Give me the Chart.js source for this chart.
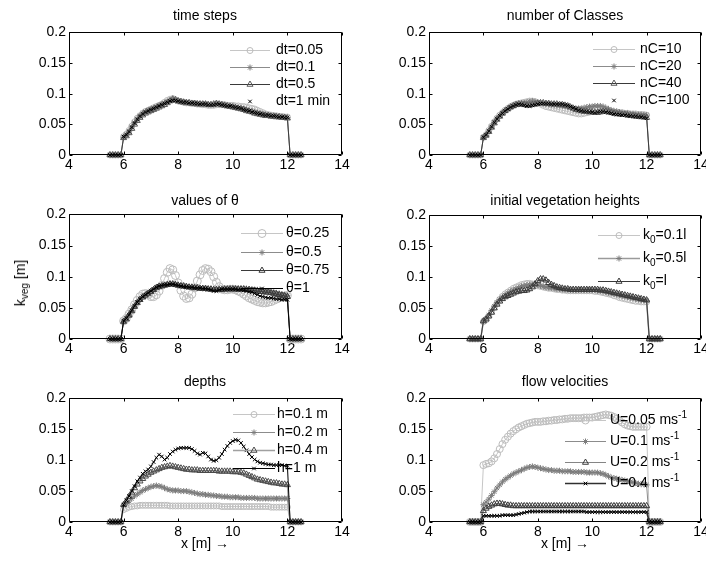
<!DOCTYPE html>
<html>
<head>
<meta charset="utf-8">
<script src="https://cdn.jsdelivr.net/npm/chart.js@4.4.0/dist/chart.umd.min.js"></script>
<style>
html, body { margin: 0; padding: 0; background: #fff; overflow: hidden; }
#page { position: relative; width: 706px; height: 561px; overflow: hidden;
        font-family: Arial, "Liberation Sans", Helvetica, sans-serif; color: #000; }
#page canvas { position: absolute; }
.lbl { position: absolute; font-size: 14px; white-space: nowrap; transform: translate(-50%, -50%); }
.lbl sub { font-size: 10px; vertical-align: -3px; }
#ylab { transform: translate(-50%, -50%) rotate(-90deg); }
</style>
</head>
<body>
<div id="page"></div>
<script>
// x positions of the computed points (m)
const xPos = [5.5,5.6,5.7,5.8,5.9,
  6,6.1,6.2,6.3,6.4,6.5,6.6,6.7,6.8,6.9,
  7,7.1,7.2,7.3,7.4,7.5,7.6,7.7,7.8,7.9,
  8,8.1,8.2,8.3,8.4,8.5,8.6,8.7,8.8,8.9,
  9,9.1,9.2,9.3,9.4,9.5,9.6,9.7,9.8,9.9,
  10,10.1,10.2,10.3,10.4,10.5,10.6,10.7,10.8,10.9,
  11,11.1,11.2,11.3,11.4,11.5,11.6,11.7,11.8,11.9,
  12,12.1,12.2,12.3,12.4,12.5];

const xTicks = [4, 6, 8, 10, 12, 14];
const xTickLabels = ['4', '6', '8', '10', '12', '14'];
const yTicks = [0, 0.05, 0.1, 0.15, 0.2];
const yTickLabels = ['0', '0.05', '0.1', '0.15', '0.2'];

// --- time steps
const dtLabels = ['dt=0.05', 'dt=0.1', 'dt=0.5', 'dt=1 min'];
const dt005 = [0,0,0,0,0,
  .030,.034,.040,.047,.054,.060,.064,.068,.071,.073,
  .075,.077,.079,.081,.083,.086,.089,.091,.092,.090,
  .088,.087,.086,.085,.085,.084,.084,.083,.083,.082,
  .082,.081,.081,.081,.082,.082,.082,.082,.081,.081,
  .081,.080,.080,.079,.079,.078,.077,.076,.075,.073,
  .071,.069,.067,.066,.065,.064,.064,.063,.063,.062,
  .062,0,0,0,0,0];
const dt01 = [0,0,0,0,0,
  .029,.033,.039,.046,.053,.059,.064,.068,.071,.073,
  .075,.077,.079,.081,.083,.085,.087,.089,.090,.089,
  .088,.087,.086,.086,.085,.085,.084,.084,.083,.083,
  .083,.082,.082,.082,.083,.083,.082,.081,.080,.080,
  .079,.078,.077,.076,.075,.074,.072,.071,.070,.069,
  .068,.067,.066,.065,.064,.064,.063,.063,.062,.062,
  .061,0,0,0,0,0];
const dt05 = [0,0,0,0,0,
  .028,.031,.036,.043,.050,.056,.061,.065,.068,.070,
  .072,.074,.076,.078,.080,.082,.085,.088,.091,.090,
  .088,.087,.086,.085,.085,.084,.084,.083,.083,.083,
  .083,.082,.082,.083,.084,.083,.082,.081,.080,.079,
  .078,.077,.076,.075,.074,.072,.071,.070,.068,.067,
  .066,.065,.064,.064,.063,.063,.062,.062,.061,.061,
  .060,0,0,0,0,0];
const dt1 = [0,0,0,0,0,
  .030,.033,.038,.045,.052,.058,.063,.067,.070,.072,
  .074,.076,.078,.080,.082,.084,.086,.088,.089,.089,
  .088,.087,.086,.086,.085,.085,.084,.084,.083,.083,
  .083,.082,.082,.082,.083,.083,.082,.081,.080,.080,
  .079,.078,.077,.076,.074,.073,.072,.070,.069,.068,
  .067,.066,.065,.065,.064,.064,.063,.062,.062,.061,
  .061,0,0,0,0,0];

// --- number of classes
const nCLabels = ['nC=10', 'nC=20', 'nC=40', 'nC=100'];
const nC10 = [0,0,0,0,0,
  .029,.033,.040,.047,.054,.060,.065,.069,.073,.076,
  .079,.081,.083,.084,.085,.086,.087,.088,.088,.087,
  .085,.083,.081,.079,.078,.077,.076,.075,.074,.073,
  .072,.071,.070,.069,.068,.067,.067,.068,.069,.070,
  .072,.074,.075,.076,.075,.074,.073,.071,.070,.070,
  .069,.069,.068,.068,.067,.067,.067,.066,.066,.066,
  .065,0,0,0,0,0];
const nC20 = [0,0,0,0,0,
  .028,.032,.039,.046,.053,.059,.064,.068,.072,.075,
  .078,.080,.082,.083,.084,.085,.086,.087,.088,.087,
  .086,.085,.084,.083,.083,.082,.082,.081,.081,.080,
  .080,.079,.078,.077,.076,.076,.076,.077,.078,.079,
  .079,.080,.080,.080,.079,.077,.075,.073,.072,.071,
  .070,.069,.068,.068,.067,.067,.066,.066,.066,.065,
  .065,0,0,0,0,0];
const nC40 = [0,0,0,0,0,
  .028,.032,.038,.045,.052,.058,.063,.068,.072,.075,
  .078,.080,.082,.083,.083,.082,.081,.081,.082,.083,
  .084,.085,.085,.084,.084,.083,.083,.083,.082,.082,
  .081,.080,.078,.076,.074,.073,.072,.071,.071,.070,
  .070,.069,.069,.070,.071,.071,.070,.069,.068,.067,
  .067,.066,.066,.065,.064,.064,.063,.063,.062,.062,
  .061,0,0,0,0,0];
const nC100 = [0,0,0,0,0,
  .029,.033,.039,.046,.053,.059,.064,.068,.072,.075,
  .078,.080,.082,.083,.082,.081,.080,.080,.081,.082,
  .083,.084,.084,.084,.084,.083,.083,.083,.083,.083,
  .082,.081,.079,.077,.075,.073,.072,.071,.071,.070,
  .070,.069,.070,.071,.071,.070,.069,.068,.067,.066,
  .066,.065,.065,.064,.064,.063,.063,.062,.062,.061,
  .060,0,0,0,0,0];

// --- values of theta
const thLabels = ['\u03b8=0.25', '\u03b8=0.5', '\u03b8=0.75', '\u03b8=1'];
const th025 = [0,0,0,0,0,
  .029,.033,.040,.047,.055,.062,.068,.072,.073,.071,
  .068,.068,.071,.077,.086,.097,.107,.113,.111,.102,
  .090,.078,.069,.065,.066,.072,.082,.093,.103,.110,
  .113,.112,.108,.100,.091,.084,.080,.079,.079,.080,
  .080,.079,.077,.075,.072,.069,.066,.064,.062,.060,
  .059,.058,.058,.059,.060,.062,.064,.066,.068,.069,
  .070,0,0,0,0,0];
const th05 = [0,0,0,0,0,
  .029,.033,.039,.046,.053,.059,.064,.068,.071,.074,
  .077,.080,.083,.085,.086,.087,.088,.089,.089,.088,
  .087,.086,.085,.084,.084,.083,.083,.082,.082,.081,
  .081,.081,.080,.080,.080,.080,.080,.080,.080,.081,
  .081,.081,.081,.081,.081,.081,.080,.080,.079,.079,
  .078,.078,.077,.077,.076,.075,.074,.073,.072,.071,
  .070,0,0,0,0,0];
const th075 = [0,0,0,0,0,
  .028,.032,.038,.045,.052,.058,.063,.067,.070,.073,
  .076,.079,.082,.084,.085,.086,.087,.088,.088,.087,
  .086,.085,.085,.084,.083,.083,.082,.082,.081,.081,
  .081,.080,.080,.079,.079,.079,.079,.080,.080,.080,
  .080,.080,.080,.080,.080,.079,.079,.078,.078,.077,
  .076,.076,.075,.075,.074,.073,.072,.071,.070,.069,
  .068,0,0,0,0,0];
const th1 = [0,0,0,0,0,
  .029,.033,.039,.046,.053,.059,.064,.068,.071,.074,
  .077,.080,.083,.085,.086,.087,.087,.088,.088,.087,
  .086,.085,.084,.084,.083,.083,.082,.082,.082,.081,
  .081,.080,.079,.077,.077,.079,.080,.080,.080,.080,
  .080,.080,.079,.079,.078,.077,.076,.075,.073,.071,
  .069,.068,.067,.066,.066,.065,.064,.064,.063,.063,
  .063,0,0,0,0,0];

// --- initial vegetation heights
const k0Labels = ['k_{0}=0.1l', 'k_{0}=0.5l', 'k_{0}=l'];
const k01 = [0,0,0,0,0,
  .028,.031,.037,.044,.051,.058,.064,.069,.073,.076,
  .079,.082,.084,.086,.088,.089,.090,.090,.089,.087,
  .086,.085,.084,.083,.082,.082,.081,.080,.080,.079,
  .079,.078,.078,.078,.078,.078,.078,.078,.078,.078,
  .078,.077,.077,.076,.075,.074,.073,.072,.070,.069,
  .067,.066,.065,.064,.063,.062,.061,.061,.060,.060,
  .060,0,0,0,0,0];
const k05 = [0,0,0,0,0,
  .029,.033,.039,.046,.053,.059,.064,.068,.071,.074,
  .077,.079,.081,.083,.085,.086,.087,.088,.088,.088,
  .087,.086,.085,.084,.083,.083,.082,.081,.081,.080,
  .080,.080,.079,.079,.079,.079,.079,.079,.079,.079,
  .079,.079,.078,.078,.077,.076,.075,.074,.073,.072,
  .071,.070,.069,.068,.067,.066,.065,.064,.063,.063,
  .062,0,0,0,0,0];
const k0l = [0,0,0,0,0,
  .029,.032,.037,.043,.050,.056,.061,.065,.068,.070,
  .072,.074,.076,.077,.078,.078,.079,.081,.084,.089,
  .094,.097,.097,.095,.091,.088,.086,.084,.083,.082,
  .081,.081,.080,.080,.080,.080,.080,.080,.080,.080,
  .080,.080,.080,.079,.079,.078,.077,.076,.075,.074,
  .073,.072,.071,.070,.069,.068,.067,.066,.065,.064,
  .063,0,0,0,0,0];

// --- depths
const hLabels = ['h=0.1 m', 'h=0.2 m', 'h=0.4 m', 'h=1 m'];
const h01 = [0,0,0,0,0,
  .020,.022,.024,.025,.026,.026,.027,.027,.027,.027,
  .027,.027,.027,.027,.027,.027,.027,.026,.026,.026,
  .026,.026,.026,.026,.026,.026,.026,.026,.026,.026,
  .026,.026,.026,.026,.026,.026,.025,.025,.025,.025,
  .025,.025,.025,.025,.025,.025,.025,.025,.025,.025,
  .025,.025,.025,.025,.024,.024,.024,.024,.024,.024,
  .024,0,0,0,0,0];
const h02 = [0,0,0,0,0,
  .027,.030,.034,.038,.042,.045,.048,.051,.053,.055,
  .057,.058,.059,.058,.057,.055,.053,.052,.051,.051,
  .051,.050,.050,.050,.049,.048,.047,.046,.045,.045,
  .044,.044,.043,.043,.042,.042,.041,.041,.041,.040,
  .040,.040,.040,.039,.039,.039,.039,.039,.039,.038,
  .038,.038,.038,.038,.038,.038,.038,.038,.038,.038,
  .038,0,0,0,0,0];
const h04 = [0,0,0,0,0,
  .028,.034,.041,.048,.055,.061,.066,.070,.074,.077,
  .080,.082,.084,.086,.088,.089,.090,.091,.090,.089,
  .088,.087,.086,.085,.085,.084,.084,.084,.083,.083,
  .083,.083,.083,.083,.083,.082,.082,.082,.082,.082,
  .081,.081,.081,.080,.079,.077,.075,.073,.071,.069,
  .068,.067,.066,.065,.064,.063,.063,.062,.061,.061,
  .060,0,0,0,0,0];
const h1 = [0,0,0,0,0,
  .028,.035,.042,.050,.058,.066,.072,.078,.082,.085,
  .090,.097,.104,.109,.106,.101,.104,.110,.114,.117,
  .119,.120,.120,.120,.120,.118,.115,.111,.109,.112,
  .111,.106,.101,.099,.100,.104,.110,.117,.123,.128,
  .131,.133,.132,.128,.122,.116,.110,.105,.101,.098,
  .096,.095,.094,.093,.093,.092,.092,.092,.092,.091,
  .091,0,0,0,0,0];

// --- flow velocities
const uLabels = ['U=0.05 ms^{-1}', 'U=0.1 ms^{-1}', 'U=0.2 ms^{-1}', 'U=0.4 ms^{-1}'];
const u005 = [0,0,0,0,0,
  .092,.094,.095,.098,.103,.110,.118,.126,.133,.138,
  .143,.147,.150,.153,.155,.157,.159,.160,.161,.162,
  .162,.162,.163,.163,.164,.164,.165,.165,.166,.166,
  .167,.167,.168,.168,.168,.168,.168,.169,.169,.169,
  .169,.170,.171,.172,.173,.174,.173,.172,.170,.167,
  .164,.161,.158,.156,.155,.154,.154,.154,.154,.154,
  .154,0,0,0,0,0];
const u01 = [0,0,0,0,0,
  .028,.032,.037,.043,.049,.055,.060,.065,.069,.072,
  .075,.078,.080,.082,.084,.086,.088,.089,.090,.089,
  .088,.087,.086,.085,.084,.084,.083,.083,.083,.082,
  .082,.082,.082,.081,.081,.081,.081,.081,.080,.080,
  .080,.080,.080,.079,.078,.076,.074,.072,.071,.070,
  .069,.068,.067,.066,.065,.064,.063,.062,.061,.061,
  .060,0,0,0,0,0];
const u02 = [0,0,0,0,0,
  .018,.022,.025,.027,.029,.030,.030,.029,.028,.027,
  .027,.026,.026,.026,.026,.026,.026,.026,.026,.026,
  .026,.026,.026,.026,.026,.026,.026,.026,.026,.026,
  .026,.026,.026,.026,.026,.026,.026,.026,.026,.026,
  .026,.026,.026,.026,.026,.026,.026,.026,.026,.026,
  .026,.026,.026,.026,.026,.026,.026,.026,.026,.026,
  .026,0,0,0,0,0];
const u04 = [0,0,0,0,0,
  .010,.010,.010,.010,.010,.010,.010,.011,.011,.011,
  .011,.011,.012,.013,.014,.015,.016,.017,.017,.017,
  .017,.017,.017,.017,.017,.017,.017,.017,.017,.017,
  .017,.017,.017,.017,.017,.017,.017,.017,.016,.016,
  .016,.016,.016,.016,.016,.016,.016,.016,.016,.016,
  .016,.016,.016,.016,.016,.016,.016,.016,.016,.016,
  .016,0,0,0,0,0];

// styles for the four series kinds (light circles, grey stars, dark triangles, black crosses)
const S_LIGHT = { line: '#c6c6c6', mark: '#bcbcbc', pt: 'circle', r: 3 };
const S_GREY = { line: '#8c8c8c', mark: '#7c7c7c', pt: 'star', r: 3 };
const S_DARK = { line: '#3a3a3a', mark: '#5a5a5a', pt: 'triangle', r: 3.5 };
const S_BLACK = { line: '#000', mark: '#000', pt: 'crossRot', r: 2.5 };

const panels = [
  { area: [69, 31, 342, 155], title: 'time steps', tpos: [205, 15],
    labels: dtLabels, series: [dt005, dt01, dt05, dt1],
    styles: [S_LIGHT, S_GREY, S_DARK, Object.assign({}, S_BLACK, { noLine: true })],
    leg: { x: 161, y: 18, dy: 17, len: 40, gap: 6 } },
  { area: [429, 31, 701, 155], title: 'number of Classes', tpos: [565, 15],
    labels: nCLabels, series: [nC10, nC20, nC40, nC100],
    styles: [S_LIGHT, S_GREY, S_DARK, Object.assign({}, S_BLACK, { noLine: true })],
    leg: { x: 164, y: 17, dy: 17, len: 42, gap: 5 } },
  { area: [69, 213, 342, 339], title: 'values of \u03b8', tpos: [205, 200],
    labels: thLabels, series: [th025, th05, th075, th1],
    styles: [Object.assign({}, S_LIGHT, { r: 4 }), S_GREY, Object.assign({}, S_DARK, { mark: '#3a3a3a' }), S_BLACK],
    leg: { x: 172, y: 19, dy: 18.3, len: 42, gap: 3 } },
  { area: [429, 214, 701, 339], title: 'initial vegetation heights', tpos: [565, 200],
    labels: k0Labels, series: [k01, k05, k0l],
    styles: [S_LIGHT, Object.assign({}, S_GREY, { line: '#9a9a9a', w: 1.5 }), Object.assign({}, S_DARK, { mark: '#3a3a3a' })],
    leg: { x: 169, y: 20, dy: 23, len: 42, gap: 3 } },
  { area: [69, 397, 342, 522], title: 'depths', tpos: [205, 381],
    labels: hLabels, series: [h01, h02, h04, h1],
    styles: [S_LIGHT, S_GREY, Object.assign({}, S_DARK, { line: '#a0a0a0', w: 1.5, mark: '#4a4a4a' }), S_BLACK],
    leg: { x: 164, y: 16, dy: 18, len: 42, gap: 2 } },
  { area: [429, 397, 701, 522], title: 'flow velocities', tpos: [565, 381],
    labels: uLabels, series: [u005, u01, u02, u04],
    styles: [Object.assign({}, S_LIGHT, { r: 3.5 }), S_GREY,
             Object.assign({}, S_DARK, { line: '#858585', mark: '#3a3a3a' }),
             Object.assign({}, S_BLACK, { line: '#303030', w: 1.5 })],
    leg: { x: 136, y: 22, dy: 21, len: 41, gap: 4 } }
];

const FONT = 'Arial, "Liberation Sans", Helvetica, sans-serif';
const AX_W = 45, PAD_T = 10, PAD_R = 14, AX_H = 24;
const page = document.getElementById('page');

// text with _{...} and ^{...} parts
function drawRich(ctx, str, x, y) {
  const re = /([_^])\{([^}]*)\}/g;
  let last = 0, m;
  const put = (t, size, dy) => {
    ctx.font = size + 'px ' + FONT;
    ctx.fillText(t, x, y + dy);
    x += ctx.measureText(t).width;
  };
  while ((m = re.exec(str))) {
    put(str.slice(last, m.index), 14, 0);
    put(m[2], 10, m[1] === '_' ? 5 : -5);
    last = re.lastIndex;
  }
  put(str.slice(last), 14, 0);
}

function boxPlugin() {
  return {
    id: 'matBox',
    afterDraw(chart) {
      const { ctx, chartArea: a, scales } = chart;
      const l = Math.round(a.left) + 0.5, r = Math.round(a.right) - 0.5;
      const t = Math.round(a.top) + 0.5, b = Math.round(a.bottom) - 0.5;
      ctx.save();
      ctx.strokeStyle = '#000';
      ctx.lineWidth = 1;
      ctx.beginPath();
      ctx.rect(l, t, r - l, b - t);
      xTicks.forEach(v => {
        const px = Math.round(scales.x.getPixelForValue(v)) + 0.5;
        ctx.moveTo(px, b); ctx.lineTo(px, b - 3);
        ctx.moveTo(px, t); ctx.lineTo(px, t + 3);
      });
      yTicks.forEach(v => {
        const py = Math.round(scales.y.getPixelForValue(v)) + 0.5;
        ctx.moveTo(l, py); ctx.lineTo(l + 3, py);
        ctx.moveTo(r, py); ctx.lineTo(r - 3, py);
      });
      ctx.stroke();
      ctx.restore();
    }
  };
}

function legendPlugin(p) {
  return {
    id: 'matLegend',
    afterDatasetsDraw(chart) {
      const { ctx, chartArea: a } = chart;
      ctx.save();
      p.labels.forEach((lab, i) => {
        const st = p.styles[i];
        const x0 = a.left + p.leg.x, y = Math.round(a.top + p.leg.y + i * p.leg.dy) + 0.5;
        if (!st.noLine) {
          ctx.strokeStyle = st.line;
          ctx.lineWidth = st.w || 1;
          ctx.beginPath();
          ctx.moveTo(x0, y); ctx.lineTo(x0 + p.leg.len, y);
          ctx.stroke();
        }
        ctx.strokeStyle = st.mark;
        ctx.fillStyle = 'rgba(0,0,0,0)';
        ctx.lineWidth = 1;
        Chart.helpers.drawPoint(ctx, { pointStyle: st.pt, radius: st.r, rotation: 0, borderWidth: 1 },
          x0 + p.leg.len / 2, y);
        ctx.fillStyle = '#000';
        ctx.textBaseline = 'middle';
        ctx.textAlign = 'left';
        drawRich(ctx, lab, x0 + p.leg.len + p.leg.gap, y);
      });
      ctx.restore();
    }
  };
}

panels.forEach(p => {
  const [l, t, r, b] = p.area;
  const cv = document.createElement('canvas');
  const w = AX_W + (r - l) + PAD_R, h = PAD_T + (b - t) + AX_H;
  cv.width = w; cv.height = h;
  cv.style.left = (l - AX_W) + 'px';
  cv.style.top = (t - PAD_T) + 'px';
  cv.style.width = w + 'px'; cv.style.height = h + 'px';
  page.appendChild(cv);

  const title = document.createElement('div');
  title.className = 'lbl';
  title.textContent = p.title;
  title.style.left = p.tpos[0] + 'px';
  title.style.top = p.tpos[1] + 'px';
  page.appendChild(title);

  const datasets = p.series.map((vals, i) => {
    const st = p.styles[i];
    return {
      label: p.labels[i],
      data: xPos.map((x, k) => ({ x: x, y: vals[k] })),
      showLine: !st.noLine,
      borderColor: st.line,
      borderWidth: st.w || 1,
      pointStyle: st.pt,
      pointRadius: st.r,
      pointBorderColor: st.mark,
      pointBackgroundColor: 'rgba(0,0,0,0)',
      pointBorderWidth: 1,
      tension: 0,
      clip: false,
      order: p.series.length - i
    };
  });

  new Chart(cv, {
    type: 'line',
    data: { datasets: datasets },
    options: {
      responsive: false,
      animation: false,
      events: [],
      layout: { padding: { left: 0, top: PAD_T, right: PAD_R, bottom: 0 } },
      plugins: { legend: { display: false }, tooltip: { enabled: false }, title: { display: false } },
      scales: {
        x: {
          type: 'linear', min: 4, max: 14,
          afterBuildTicks: s => { s.ticks = xTicks.map(v => ({ value: v })); },
          afterFit: s => { s.height = AX_H; },
          ticks: { callback: (v, i) => xTickLabels[i], color: '#000', padding: 2,
                   font: { family: FONT, size: 14 }, maxRotation: 0, autoSkip: false },
          grid: { display: false, drawTicks: false }, border: { display: false }
        },
        y: {
          type: 'linear', min: 0, max: 0.2,
          afterBuildTicks: s => { s.ticks = yTicks.map(v => ({ value: v })); },
          afterFit: s => { s.width = AX_W; },
          ticks: { callback: (v, i) => yTickLabels[i], color: '#000', padding: 3,
                   font: { family: FONT, size: 14 }, autoSkip: false },
          grid: { display: false, drawTicks: false }, border: { display: false }
        }
      }
    },
    plugins: [legendPlugin(p), boxPlugin()]
  });
});

// axis labels
[[205, 543], [565, 543]].forEach(([x, y]) => {
  const d = document.createElement('div');
  d.className = 'lbl';
  d.textContent = 'x [m] \u2192';
  d.style.left = x + 'px'; d.style.top = y + 'px';
  page.appendChild(d);
});
const yl = document.createElement('div');
yl.className = 'lbl'; yl.id = 'ylab';
yl.innerHTML = 'k<sub>veg</sub> [m]';
yl.style.left = '21px'; yl.style.top = '283px';
page.appendChild(yl);
</script>
</body>
</html>
